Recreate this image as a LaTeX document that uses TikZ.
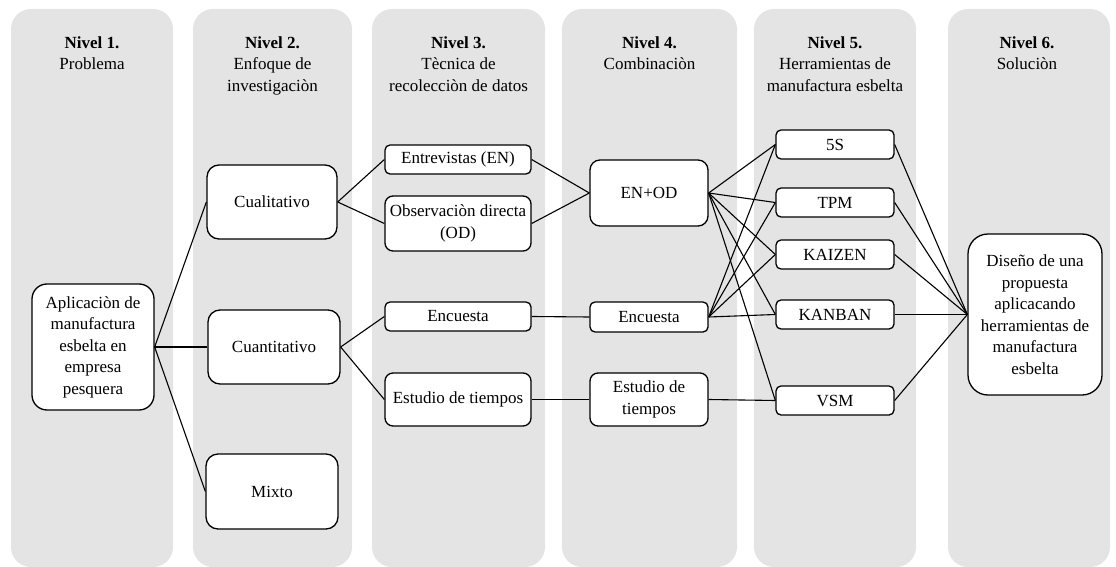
\documentclass[tikz,border=0pt]{standalone}
\usepackage{fontspec}
\setmainfont{Liberation Serif}
\definecolor{lanebg}{RGB}{228,228,228}
\newcommand{\diagfont}{\fontsize{17}{21.5}\selectfont}
\tikzset{
  lane/.style={fill=lanebg, rounded corners=20pt},
  head/.style={anchor=north, align=center, inner sep=0pt, font=\diagfont},
  box/.style={draw=black, fill=white, line width=1.3pt, rounded corners=#1,
              align=center, inner sep=0pt, font=\diagfont},
  box/.default=5pt,
  conn/.style={draw=black, line width=1.1pt}
}
\begin{document}
\begin{tikzpicture}[x=1pt,y=-1pt]
\useasboundingbox (0,0) rectangle (1116,567);

% level lanes
\fill[lane] (11,9) rectangle (173,567);
\fill[lane] (193,9) rectangle (352,567);
\fill[lane] (372,9) rectangle (545,567);
\fill[lane] (562,9) rectangle (737,567);
\fill[lane] (754,9) rectangle (916,567);
\fill[lane] (948,9) rectangle (1110,567);

% lane headings
\node[head] (h1) at (92,36.5)   {\textbf{Nivel 1.}\\Problema};
\node[head] (h2) at (272.5,36.5) {\textbf{Nivel 2.}\\Enfoque de\\investigaciòn};
\node[head] (h3) at (458.5,36.5) {\textbf{Nivel 3.}\\Tècnica de\\recolecciòn de datos};
\node[head] (h4) at (649.5,36.5) {\textbf{Nivel 4.}\\Combinaciòn};
\node[head] (h5) at (835,36.5)  {\textbf{Nivel 5.}\\Herramientas de\\manufactura esbelta};
\node[head] (h6) at (1027,36.5) {\textbf{Nivel 6.}\\Soluciòn};

% level 1
\node[box=15pt, minimum width=122pt, minimum height=126pt] (apl) at (93,347)
  {Aplicaciòn de\\manufactura\\esbelta en\\empresa\\pesquera};

% level 2
\node[box=12pt, minimum width=130pt, minimum height=74pt] (cual) at (272,202) {Cualitativo};
\node[box=12pt, minimum width=132pt, minimum height=74pt] (cuan) at (274,347) {Cuantitativo};
\node[box=12pt, minimum width=132pt, minimum height=75pt] (mix)  at (272,491.5) {Mixto};

% level 3
\node[box, minimum width=146pt, minimum height=29pt] (entr) at (458,159.5) {Entrevistas (EN)};
\node[box=8pt, minimum width=146pt, minimum height=55pt] (obs) at (458,223.5) {Observaciòn directa\\(OD)};
\node[box, minimum width=146pt, minimum height=29pt] (enc3) at (458,316.5) {Encuesta};
\node[box=8pt, minimum width=146pt, minimum height=53pt] (est3) at (458,399.5) {Estudio de tiempos};

% level 4
\node[box=10pt, minimum width=118pt, minimum height=66pt] (enod) at (649,193) {EN+OD};
\node[box, minimum width=118pt, minimum height=30pt] (enc4) at (649,317) {Encuesta};
\node[box=8pt, minimum width=118pt, minimum height=53pt] (est4) at (649,399.5) {Estudio de\\tiempos};

% level 5
\node[box, minimum width=118pt, minimum height=29pt] (s5)  at (835,144.5) {5S};
\node[box, minimum width=118pt, minimum height=29pt] (tpm) at (835,202.5) {TPM};
\node[box, minimum width=118pt, minimum height=29pt] (kai) at (835,254.5) {KAIZEN};
\node[box, minimum width=118pt, minimum height=29pt] (kan) at (835,314.5) {KANBAN};
\node[box, minimum width=118pt, minimum height=29pt] (vsm) at (835,400.5) {VSM};

% level 6
\node[box=20pt, minimum width=134pt, minimum height=161pt] (dis) at (1035,314.5)
  {Diseño de una\\propuesta\\aplicacando\\herramientas de\\manufactura\\esbelta};

% connectors
\foreach \t in {cual,cuan,mix} \draw[conn] (apl.east) -- (\t.west);
\foreach \t in {entr,obs} \draw[conn] (cual.east) -- (\t.west);
\foreach \t in {enc3,est3} \draw[conn] (cuan.east) -- (\t.west);
\foreach \s in {entr,obs} \draw[conn] (\s.east) -- (enod.west);
\draw[conn] (enc3.east) -- (enc4.west);
\draw[conn] (est3.east) -- (est4.west);
\foreach \t in {s5,tpm,kai,kan,vsm} \draw[conn] (enod.east) -- (\t.west);
\foreach \t in {s5,tpm,kai,kan} \draw[conn] (enc4.east) -- (\t.west);
\draw[conn] (est4.east) -- (vsm.west);
\foreach \s in {s5,tpm,kai,kan,vsm} \draw[conn] (\s.east) -- (dis.west);
\end{tikzpicture}
\end{document}
